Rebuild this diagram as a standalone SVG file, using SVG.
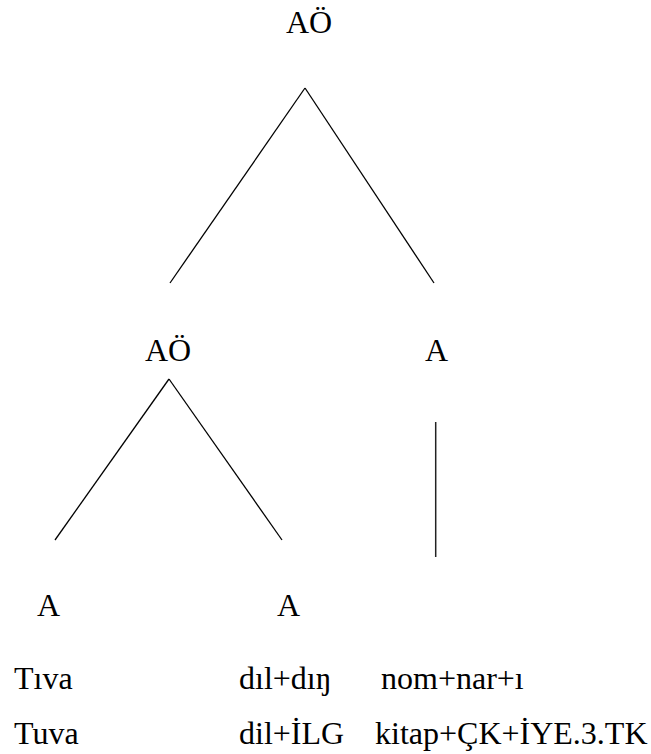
<svg xmlns="http://www.w3.org/2000/svg" width="651" height="754" viewBox="0 0 651 754" font-family="'Liberation Serif', serif">
<style>
svg g[id] text.t, text.t{font-family:'Liberation Serif',serif !important;font-size:32px;fill:#000}
.e{stroke:#000;stroke-width:1.3;fill:none}
</style>
<rect width="651" height="754" fill="#fff"/>
<g id="connectors">
<line class="e" x1="305" y1="88" x2="170" y2="283"/>
<line class="e" x1="305" y1="88" x2="434" y2="283"/>
<line class="e" x1="169" y1="379" x2="55" y2="540"/>
<line class="e" x1="169" y1="379" x2="282" y2="540"/>
<line class="e" x1="435.7" y1="422" x2="435.7" y2="557" style="stroke:#222;stroke-width:1.5"/>
</g>
<g id="n-root"><text class="t" style="font-family:'Liberation Serif',serif !important" x="286" y="33">AÖ</text></g>
<g id="n-ao"><text class="t" style="font-family:'Liberation Serif',serif !important" x="145" y="361">AÖ</text></g>
<g id="n-a-right"><text class="t" style="font-family:'Liberation Serif',serif !important" x="425" y="361">A</text></g>
<g id="n-a1"><text class="t" style="font-family:'Liberation Serif',serif !important" x="37" y="616">A</text></g>
<g id="n-a2"><text class="t" style="font-family:'Liberation Serif',serif !important" x="277" y="616">A</text></g>
<g id="gloss">
<text class="t" style="font-family:'Liberation Serif',serif !important" x="14" y="689">Tıva</text>
<text class="t" style="font-family:'Liberation Serif',serif !important" x="239" y="689">dıl+dıŋ</text>
<text class="t" style="font-family:'Liberation Serif',serif !important" x="381" y="689">nom+nar+ı</text>
<text class="t" style="font-family:'Liberation Serif',serif !important" x="14" y="744">Tuva</text>
<text class="t" style="font-family:'Liberation Serif',serif !important" x="239" y="744">dil+İLG</text>
<text class="t" style="font-family:'Liberation Serif',serif !important" x="375" y="744">kitap+ÇK+İYE.3.TK</text>
</g>
</svg>
